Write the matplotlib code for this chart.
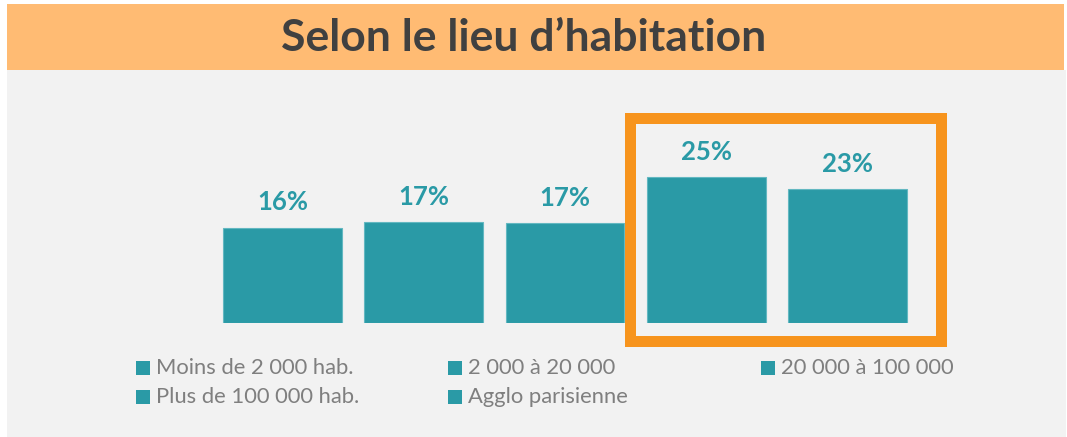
import matplotlib
matplotlib.use("Agg")
import matplotlib.pyplot as plt
from matplotlib.patches import Rectangle

# ---- data ----
categories = ["Moins de 2 000 hab.", "2 000 à 20 000", "20 000 à 100 000",
              "Plus de 100 000 hab.", "Agglo parisienne"]
values = [16.3, 17.3, 17.1, 25.0, 22.9]
title = "Selon le lieu d\u2019habitation"

W, H = 1067, 437
DPI = 100
TEAL = "#2A9AA6"
ORANGE_BAND = "#FFBB73"
ORANGE_BOX = "#F7941D"
GRAY_BG = "#F2F2F2"
FONT = ["Lato", "DejaVu Sans"]

fig = plt.figure(figsize=(W / DPI, H / DPI), dpi=DPI, facecolor="white")

def fx(px):
    return px / W

def fy(py):  # py measured from top
    return 1 - py / H

# backgrounds
fig.patches.append(Rectangle((fx(7), fy(437)), fx(1066) - fx(7), fy(70) - fy(437),
                             transform=fig.transFigure, facecolor=GRAY_BG,
                             edgecolor="none", zorder=-2))
fig.patches.append(Rectangle((fx(7), fy(70)), fx(1064) - fx(7), fy(4) - fy(70),
                             transform=fig.transFigure, facecolor=ORANGE_BAND,
                             edgecolor="none", zorder=-2))

fig.text(fx(524), fy(38), title, ha="center", va="center", fontsize=32,
         fontweight="bold", color="#404040", family=FONT)

# axes: bar centers at 282.5 + i*141.25 px, baseline at 323 px, 5.84 px per %
spacing = 141.25
left_px = 282.5 - spacing / 2
right_px = 282.5 + 4.5 * spacing
ymax = 30
ax_h_px = ymax * 5.84
ax = fig.add_axes([fx(left_px), fy(323), fx(right_px) - fx(left_px), ax_h_px / H])
ax.set_zorder(1)
ax.set_xlim(-0.5, len(values) - 0.5)
ax.set_ylim(0, ymax)
ax.axis("off")
ax.patch.set_alpha(0)

xs = list(range(len(values)))
bars = ax.bar(xs, values, width=0.84, color=TEAL, edgecolor="#63B8C1",
              linewidth=0.8, zorder=2)
for x, v in zip(xs, values):
    ax.annotate(f"{v:.0f}%", (x, v), xytext=(0, 12.5), textcoords="offset points",
                ha="center", va="baseline", fontsize=18.5, fontweight="bold",
                color=TEAL, family=FONT)

# highlight box around the last two bars
fig.patches.append(Rectangle((fx(629.5), fy(340.5)), fx(940.5) - fx(629.5),
                             fy(117.5) - fy(340.5), transform=fig.transFigure,
                             facecolor="none", edgecolor=ORANGE_BOX,
                             linewidth=11 * 72 / DPI, zorder=5))

# legend (3 columns, row-major)
col_x = [136, 448, 761]
row_y = [368, 397]
for i, cat in enumerate(categories):
    r, c = divmod(i, 3)
    mx, my = col_x[c], row_y[r]
    fig.patches.append(Rectangle((fx(mx), fy(my + 7)), fx(14), 14 / H,
                                 transform=fig.transFigure, facecolor=TEAL,
                                 edgecolor="none", zorder=3))
    fig.text(fx(mx + 20), fy(my), cat, ha="left", va="center", fontsize=15.8,
             color="#7F7F7F", family=FONT)

fig.savefig("out.png", dpi=DPI, facecolor="white")
